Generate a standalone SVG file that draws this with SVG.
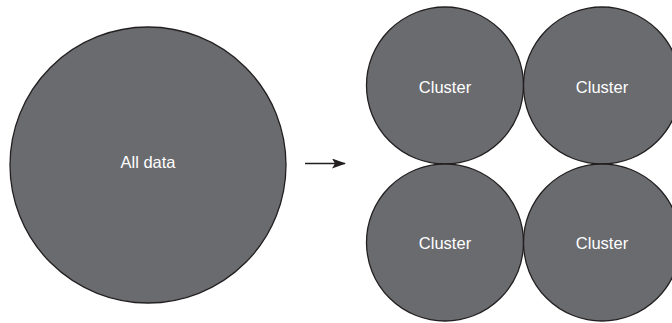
<svg xmlns="http://www.w3.org/2000/svg" width="672" height="323" viewBox="0 0 672 323">
<style>
.node{fill:#6a6b6f;stroke:#231f20;stroke-width:1.3}
.lbl{fill:#fff;font-family:"Liberation Sans",Arial,sans-serif;font-size:16.5px;text-anchor:middle;dominant-baseline:central}
.conn{stroke:#231f20;stroke-width:1.5;fill:none}
</style>
<defs>
<marker id="ah" markerWidth="14" markerHeight="10" refX="13" refY="5" orient="auto" markerUnits="userSpaceOnUse">
<path d="M0,0 L14,5 L0,10 L3,5 Z" fill="#231f20"/>
</marker>
</defs>
<rect width="672" height="323" fill="#fff"/>
<g id="all-data"><circle class="node" cx="148" cy="165" r="138"/><text class="lbl" x="148" y="162">All data</text></g>
<g id="cluster-tl"><circle class="node" cx="445" cy="85.5" r="78.5"/><text class="lbl" x="445" y="87">Cluster</text></g>
<g id="cluster-tr"><circle class="node" cx="602" cy="85.5" r="78.5"/><text class="lbl" x="602" y="87">Cluster</text></g>
<g id="cluster-bl"><circle class="node" cx="445" cy="242.5" r="78.5"/><text class="lbl" x="445" y="243">Cluster</text></g>
<g id="cluster-br"><circle class="node" cx="602" cy="242.5" r="78.5"/><text class="lbl" x="602" y="243">Cluster</text></g>
<g id="connectors"><line class="conn" x1="305" y1="163.5" x2="345" y2="163.5" marker-end="url(#ah)"/></g>
</svg>
